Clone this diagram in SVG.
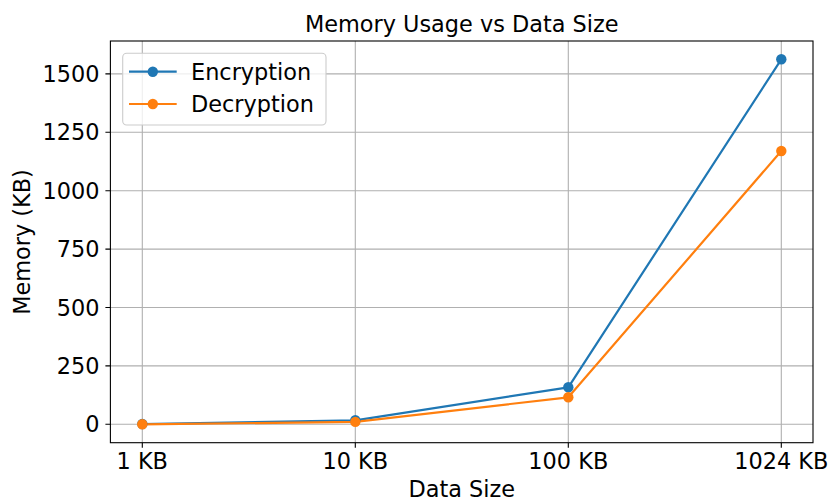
<svg xmlns="http://www.w3.org/2000/svg" width="829" height="501" viewBox="0 0 829 501">
  <style>
    text { font-family: "DejaVu Sans", sans-serif; font-size: 22.4px; fill: #000; }
    .grid { stroke: #b0b0b0; stroke-width: 1.1; fill: none; }
    .spine { stroke: #000; stroke-width: 1.1; fill: none; }
    .tick { stroke: #000; stroke-width: 1.1; }
    .ytl { text-anchor: end; }
    .xtl { text-anchor: middle; }
    .enc { stroke: #1f77b4; stroke-width: 2.2; fill: none; stroke-linejoin: round; }
    .dec { stroke: #ff7f0e; stroke-width: 2.2; fill: none; stroke-linejoin: round; }
    .encm { fill: #1f77b4; }
    .decm { fill: #ff7f0e; }
  </style>

  <rect x="0" y="0" width="829" height="501" fill="#fff"/>

  <!-- grid -->
  <g id="grid">
    <path class="grid" d="M142.3 41V442.7M355.3 41V442.7M568.3 41V442.7M781.3 41V442.7"/>
    <path class="grid" d="M110.4 424.3H813M110.4 365.9H813M110.4 307.5H813M110.4 249.1H813M110.4 190.7H813M110.4 132.3H813M110.4 73.9H813"/>
  </g>

  <!-- data series -->
  <g id="connectors">
    <polyline class="enc" points="142.3,424 355.3,420.3 568.3,387.3 781.3,59.3"/>
    <polyline class="dec" points="142.3,424.3 355.3,421.9 568.3,397.3 781.3,151"/>
  </g>
  <g id="encryption-points">
    <circle class="encm" cx="142.3" cy="424" r="5.2"/>
    <circle class="encm" cx="355.3" cy="420.3" r="5.2"/>
    <circle class="encm" cx="568.3" cy="387.3" r="5.2"/>
    <circle class="encm" cx="781.3" cy="59.3" r="5.2"/>
  </g>
  <g id="decryption-points">
    <circle class="decm" cx="142.3" cy="424.3" r="5.2"/>
    <circle class="decm" cx="355.3" cy="421.9" r="5.2"/>
    <circle class="decm" cx="568.3" cy="397.3" r="5.2"/>
    <circle class="decm" cx="781.3" cy="151" r="5.2"/>
  </g>

  <!-- axes frame and ticks -->
  <g id="axes">
    <rect class="spine" x="110.4" y="41" width="702.6" height="401.7"/>
    <path class="tick" d="M142.3 442.7v5M355.3 442.7v5M568.3 442.7v5M781.3 442.7v5"/>
    <path class="tick" d="M110.4 424.3h-5M110.4 365.9h-5M110.4 307.5h-5M110.4 249.1h-5M110.4 190.7h-5M110.4 132.3h-5M110.4 73.9h-5"/>
    <text class="ytl" x="99.5" y="432.3">0</text>
    <text class="ytl" x="99.5" y="373.9">250</text>
    <text class="ytl" x="99.5" y="315.5">500</text>
    <text class="ytl" x="99.5" y="257.1">750</text>
    <text class="ytl" x="99.5" y="198.7">1000</text>
    <text class="ytl" x="99.5" y="140.3">1250</text>
    <text class="ytl" x="99.5" y="81.9">1500</text>
    <text class="xtl" x="142.3" y="469.3">1 KB</text>
    <text class="xtl" x="355.3" y="469.3">10 KB</text>
    <text class="xtl" x="568.3" y="469.3">100 KB</text>
    <text class="xtl" x="781.3" y="469.3">1024 KB</text>
  </g>

  <!-- titles -->
  <text id="title" x="461.7" y="31.7" text-anchor="middle">Memory Usage vs Data Size</text>
  <text id="xlabel" x="461.7" y="496.7" text-anchor="middle">Data Size</text>
  <text id="ylabel" transform="translate(29.5 242) rotate(-90)" text-anchor="middle">Memory (KB)</text>

  <!-- legend -->
  <g id="legend">
    <rect x="122.7" y="53.3" width="203.3" height="71.7" rx="4" fill="#fff" fill-opacity="0.8" stroke="#cccccc" stroke-width="1.1"/>
    <line x1="129" y1="71.7" x2="176.7" y2="71.7" class="enc"/>
    <circle class="encm" cx="152.8" cy="71.7" r="5.2"/>
    <text x="191" y="79.7">Encryption</text>
    <line x1="129" y1="104" x2="176.7" y2="104" class="dec"/>
    <circle class="decm" cx="152.8" cy="104" r="5.2"/>
    <text x="191" y="112">Decryption</text>
  </g>
</svg>
